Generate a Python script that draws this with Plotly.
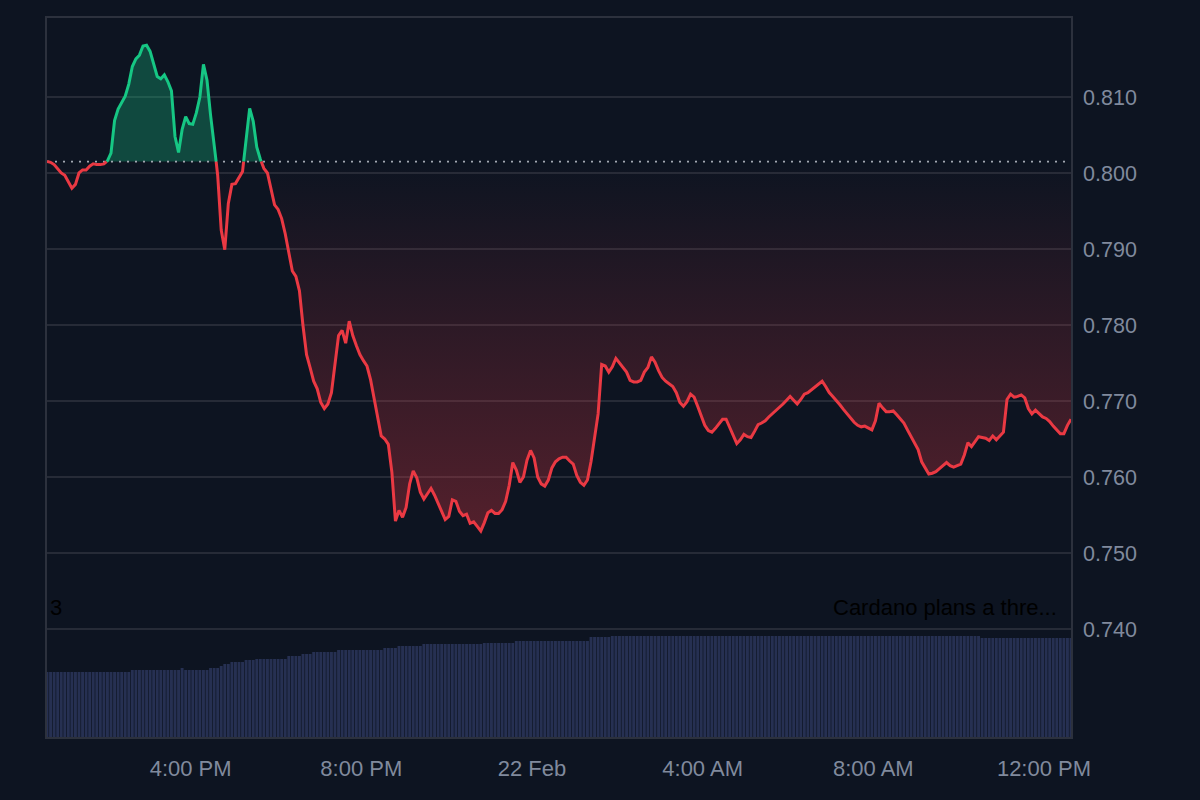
import plotly.graph_objects as go
import pandas as pd

# ---------------- data ----------------
start_time = "2025-02-21 12:38"
step = "5min"

price = [
    0.8015, 0.8014, 0.8011, 0.8006, 0.8000, 0.7997, 0.7989, 0.7980, 0.7985, 0.8000, 0.8004, 0.8004,
    0.8009, 0.8012, 0.8011, 0.8011, 0.8012, 0.8016, 0.8026, 0.8069, 0.8084, 0.8093, 0.8101, 0.8117,
    0.8140, 0.8150, 0.8155, 0.8167, 0.8168, 0.8160, 0.8143, 0.8127, 0.8124, 0.8129, 0.8120, 0.8108,
    0.8048, 0.8027, 0.8057, 0.8074, 0.8065, 0.8064, 0.8079, 0.8100, 0.8143, 0.8122, 0.8076, 0.8039,
    0.7997, 0.7925, 0.7899, 0.7960, 0.7985, 0.7986, 0.7995, 0.8002, 0.8046, 0.8085, 0.8068, 0.8034,
    0.8018, 0.8006, 0.8000, 0.7977, 0.7958, 0.7952, 0.7940, 0.7920, 0.7896, 0.7871, 0.7864, 0.7845,
    0.7799, 0.7761, 0.7744, 0.7726, 0.7716, 0.7698, 0.7690, 0.7696, 0.7711, 0.7746, 0.7786, 0.7793,
    0.7776, 0.7805, 0.7786, 0.7773, 0.7761, 0.7753, 0.7746, 0.7728, 0.7703, 0.7674, 0.7654, 0.7650,
    0.7643, 0.7606, 0.7542, 0.7556, 0.7547, 0.7560, 0.7591, 0.7608, 0.7599, 0.7580, 0.7571, 0.7578,
    0.7585, 0.7576, 0.7565, 0.7553, 0.7544, 0.7548, 0.7570, 0.7568, 0.7555, 0.7549, 0.7551, 0.7539,
    0.7541, 0.7535, 0.7529, 0.7540, 0.7553, 0.7556, 0.7552, 0.7552, 0.7557, 0.7568, 0.7589, 0.7619,
    0.7609, 0.7593, 0.7600, 0.7622, 0.7635, 0.7625, 0.7600, 0.7591, 0.7588, 0.7596, 0.7612, 0.7620,
    0.7624, 0.7626, 0.7626, 0.7621, 0.7617, 0.7602, 0.7593, 0.7589, 0.7596, 0.7620, 0.7650, 0.7683,
    0.7748, 0.7746, 0.7738, 0.7745, 0.7756, 0.7750, 0.7743, 0.7738, 0.7727, 0.7725, 0.7725, 0.7727,
    0.7738, 0.7744, 0.7758, 0.7751, 0.7740, 0.7731, 0.7726, 0.7722, 0.7719, 0.7711, 0.7698, 0.7693,
    0.7699, 0.7709, 0.7705, 0.7693, 0.7681, 0.7668, 0.7661, 0.7659, 0.7664, 0.7670, 0.7676, 0.7676,
    0.7665, 0.7654, 0.7644, 0.7649, 0.7656, 0.7653, 0.7652, 0.7660, 0.7669, 0.7671, 0.7674, 0.7679,
    0.7683, 0.7687, 0.7691, 0.7696, 0.7701, 0.7706, 0.7701, 0.7696, 0.7702, 0.7709, 0.7711, 0.7715,
    0.7719, 0.7722, 0.7726, 0.7719, 0.7711, 0.7706, 0.7701, 0.7695, 0.7689, 0.7683, 0.7677, 0.7672,
    0.7668, 0.7666, 0.7667, 0.7664, 0.7662, 0.7674, 0.7697, 0.7691, 0.7686, 0.7686, 0.7687, 0.7682,
    0.7677, 0.7671, 0.7662, 0.7653, 0.7645, 0.7636, 0.7620, 0.7612, 0.7604, 0.7605, 0.7607, 0.7611,
    0.7615, 0.7619, 0.7615, 0.7613, 0.7615, 0.7617, 0.7629, 0.7645, 0.7640, 0.7647, 0.7653, 0.7652,
    0.7651, 0.7648, 0.7654, 0.7649, 0.7654, 0.7659, 0.7702, 0.7709, 0.7705, 0.7706, 0.7708, 0.7704,
    0.7690, 0.7683, 0.7688, 0.7684, 0.7679, 0.7677, 0.7673, 0.7667, 0.7662, 0.7657, 0.7657, 0.7668,
    0.7676,
]

volume_m = [
    650, 650, 650, 650, 650, 650, 650, 650, 650, 650, 650, 650,
    650, 650, 650, 650, 650, 650, 650, 650, 650, 650, 650, 650,
    670, 670, 670, 670, 670, 670, 670, 670, 670, 670, 670, 670,
    670, 670, 690, 670, 670, 670, 670, 670, 670, 670, 690, 690,
    690, 710, 730, 730, 750, 750, 750, 750, 770, 770, 770, 780,
    780, 780, 780, 780, 780, 780, 780, 780, 810, 810, 810, 810,
    830, 830, 830, 850, 850, 850, 850, 850, 850, 850, 870, 870,
    870, 870, 870, 870, 870, 870, 870, 870, 870, 870, 870, 890,
    890, 890, 890, 910, 910, 910, 910, 910, 910, 910, 930, 930,
    930, 930, 930, 930, 930, 930, 930, 930, 930, 930, 930, 930,
    930, 930, 930, 940, 940, 940, 940, 940, 940, 940, 940, 940,
    960, 960, 960, 960, 960, 960, 960, 960, 960, 960, 960, 960,
    960, 960, 960, 960, 960, 960, 960, 960, 960, 1000, 1000, 1000,
    1000, 1000, 1000, 1010, 1010, 1010, 1010, 1010, 1010, 1010, 1010, 1010,
    1010, 1010, 1010, 1010, 1010, 1010, 1010, 1010, 1010, 1010, 1010, 1010,
    1010, 1010, 1010, 1010, 1010, 1010, 1010, 1010, 1010, 1010, 1010, 1010,
    1010, 1010, 1010, 1010, 1010, 1010, 1010, 1010, 1010, 1010, 1010, 1010,
    1010, 1010, 1010, 1010, 1010, 1010, 1010, 1010, 1010, 1010, 1010, 1010,
    1010, 1010, 1010, 1010, 1010, 1010, 1010, 1010, 1010, 1010, 1010, 1010,
    1010, 1010, 1010, 1010, 1010, 1010, 1010, 1010, 1010, 1010, 1010, 1010,
    1010, 1010, 1010, 1010, 1010, 1010, 1010, 1010, 1010, 1010, 1010, 1010,
    1010, 1010, 1010, 1010, 1010, 1010, 1010, 1010, 1010, 1010, 1010, 990,
    990, 990, 990, 990, 990, 990, 990, 990, 990, 990, 990, 990,
    990, 990, 990, 990, 990, 990, 990, 990, 990, 990, 990, 990,
    990,
]

x_tick_times = ["2025-02-21 16:00", "2025-02-21 20:00", "2025-02-22 00:00",
                "2025-02-22 04:00", "2025-02-22 08:00", "2025-02-22 12:00"]
x_tick_labels = ["4:00 PM", "8:00 PM", "22 Feb", "4:00 AM", "8:00 AM", "12:00 PM"]
y_tick_values = [0.740, 0.750, 0.760, 0.770, 0.780, 0.790, 0.800, 0.810]
event_count_label = "3"
news_label = "Cardano plans a thre..."

# ---------------- styling ----------------
BG = "#0d1421"
GRID = "#262b37"
FRAME = "#2c313d"
TEXT = "#808a9d"
GREEN = "#16c784"
RED = "#ea3943"
FONT = "Liberation Sans, Arial, sans-serif"

times = pd.date_range(start_time, periods=len(price), freq=step)
base = price[0]

# insert baseline crossing points so the colour switch is exact
ts, vs = [], []
for i in range(len(price)):
    if i > 0:
        a, b = price[i - 1], price[i]
        if (a - base) * (b - base) < 0:
            f = (base - a) / (b - a)
            ts.append(times[i - 1] + (times[i] - times[i - 1]) * f)
            vs.append(base)
    ts.append(times[i])
    vs.append(price[i])

upper = [max(v, base) for v in vs]
lower = [min(v, base) for v in vs]
green_line = [v if v >= base else None for v in vs]
red_line = [v if v <= base else None for v in vs]
base_line = [base] * len(ts)

fig = go.Figure()

fig.add_trace(go.Bar(
    x=times, y=volume_m, yaxis="y2",
    marker=dict(color="#263052", line=dict(width=0)),
    hoverinfo="skip", showlegend=False,
))

fig.add_trace(go.Scatter(x=ts, y=base_line, mode="lines", line=dict(width=0),
                         hoverinfo="skip", showlegend=False))
fig.add_trace(go.Scatter(x=ts, y=upper, mode="lines", line=dict(width=0),
                         fill="tonexty", fillcolor="rgba(22,199,132,0.30)",
                         hoverinfo="skip", showlegend=False))
fig.add_trace(go.Scatter(x=ts, y=base_line, mode="lines", line=dict(width=0),
                         hoverinfo="skip", showlegend=False))
fig.add_trace(go.Scatter(x=ts, y=lower, mode="lines", line=dict(width=0),
                         fill="tonexty",
                         fillgradient=dict(type="vertical",
                                           colorscale=[[0, "rgba(234,57,67,0.32)"],
                                                       [1, "rgba(234,57,67,0.0)"]]),
                         hoverinfo="skip", showlegend=False))

fig.add_trace(go.Scatter(x=[ts[0], ts[-1]], y=[base, base], mode="lines",
                         line=dict(color="#a3a8b2", width=1.8, dash="2px,6px"),
                         hoverinfo="skip", showlegend=False))

fig.add_trace(go.Scatter(x=ts, y=green_line, mode="lines",
                         line=dict(color=GREEN, width=3),
                         connectgaps=False, showlegend=False))
fig.add_trace(go.Scatter(x=ts, y=red_line, mode="lines",
                         line=dict(color=RED, width=3),
                         connectgaps=False, showlegend=False))

vmax = max(volume_m)
fig.update_layout(
    width=1200, height=800,
    margin=dict(l=47, r=129, t=18, b=63),
    paper_bgcolor=BG, plot_bgcolor=BG,
    font=dict(family=FONT, size=21, color=TEXT),
    bargap=0.18,
    showlegend=False,
    xaxis=dict(
        range=[times[0], times[-1]],
        tickvals=x_tick_times, ticktext=x_tick_labels,
        showgrid=False, zeroline=False,
        showline=True, linecolor=FRAME, linewidth=1.5, mirror=True,
        ticks="", ticklabelstandoff=11,
        tickfont=dict(size=22, color=TEXT),
    ),
    yaxis=dict(
        side="right",
        range=[0.72579, 0.82039],
        tickvals=y_tick_values, tickformat=".3f",
        showgrid=True, gridcolor=GRID, gridwidth=1.5,
        zeroline=False,
        showline=True, linecolor=FRAME, linewidth=1.5, mirror=True,
        ticks="", ticklabelstandoff=6,
        tickfont=dict(size=21.5, color=TEXT),
    ),
    yaxis2=dict(
        overlaying="y", side="left",
        range=[0, vmax * 719 / 101],
        showgrid=False, zeroline=False, showticklabels=False, showline=False,
    ),
    annotations=[
        dict(text=event_count_label, xref="paper", yref="paper", x=0.001, y=0.18,
             xanchor="left", yanchor="middle", showarrow=False,
             font=dict(family=FONT, size=22, color="#000000")),
        dict(text=news_label, xref="paper", yref="paper", x=0.9885, y=0.18,
             xanchor="right", yanchor="middle", showarrow=False,
             font=dict(family=FONT, size=22, color="#000000")),
    ],
)

fig.write_html("out.html")
